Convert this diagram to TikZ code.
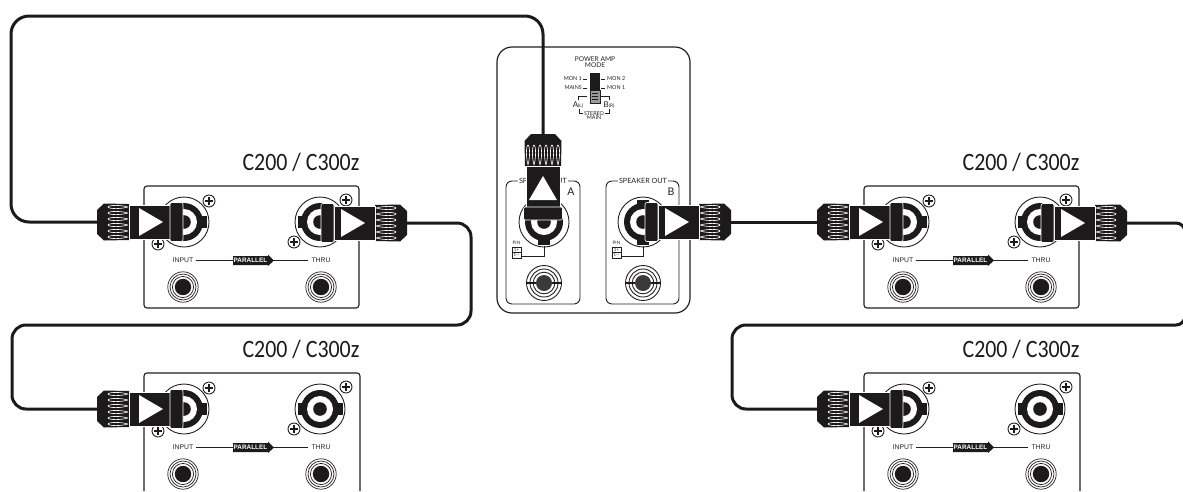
\documentclass[tikz,border=0pt]{standalone}
\usepackage{fontspec}
\setmainfont{Liberation Sans}
\newfontfamily\titlefont[FakeStretch=0.875]{Carlito}
\newfontfamily\ampfont{Lato}
\usepackage{tikz}
\usetikzlibrary{positioning, calc}
\usepackage{xcolor}
\definecolor{cabledark}{HTML}{1C1A1B}
\definecolor{panelline}{HTML}{231F20}
\definecolor{switchgrey}{HTML}{9A9A9A}
\definecolor{jackgrey}{HTML}{3A3A3A}
\newcommand{\fsize}[1]{\fontsize{#1}{#1}\selectfont}
\newcommand{\plugshell}{
  \coordinate (-end) at (0,0);
  \fill[cabledark] (0,-12) -- (7,-18.5) -- (32,-18) -- (32,18) -- (7,18.5) -- (0,12) -- cycle;
  \foreach \row in {-15,-9,-3,3,9,15}
    \draw[white, line width=0.6pt] (31,\row) .. controls (24,\row-2.1) and (12,\row-2.1) .. (11,\row)
      .. controls (12,\row+2.1) and (24,\row+2.1) .. (31,\row);
  \fill[cabledark, draw=white, line width=0.6pt] (32,-17) rectangle (73,17);
  \fill[cabledark, draw=white, line width=0.6pt, rounded corners=2pt] (73,-19.5) rectangle (86,19.5);
}
\tikzset{
  cable/.style={draw=cabledark, line width=3pt},
  boxline/.style={draw=panelline, line width=1.1pt, rounded corners=3pt},
  thinline/.style={draw=panelline, line width=0.7pt},
  unitlabel/.style={font=\titlefont\fsize{25}, text=cabledark, inner sep=0pt},
  paneltext/.style={font=\fsize{6.8}, text=panelline, inner sep=0pt},
  amptext/.style={font=\ampfont\fsize{5.4}, text=panelline, inner sep=0pt, align=center},
  speakertext/.style={font=\ampfont\fsize{7.2}, text=panelline, fill=white, inner sep=1.5pt},
  pics/plugin/.style={code={
    \plugshell
    \fill[white] (42,-14) -- (66,0) -- (42,14) -- cycle;
  }},
  pics/plugout/.style={code={
    \plugshell
    \fill[white] (66,-14) -- (42,0) -- (66,14) -- cycle;
  }},
  pics/speakon/.style={code={
    \draw[thinline, fill=white, line width=0.9pt] (0,0) circle [radius=25];
    \fill[cabledark] (-22.5,-6) rectangle (22.5,6);
    \fill[cabledark] (0,0) circle [radius=19];
    \fill[white] (0,0) circle [radius=13];
    \fill[cabledark] (0,0) circle [radius=6.8];
  }},
  pics/screw/.style={code={
    \draw[thinline, fill=white, line width=0.9pt] (0,0) circle [radius=6];
    \draw[cabledark, line width=1.7pt] (-3.8,0) -- (3.8,0) (0,-3.8) -- (0,3.8);
  }},
  pics/panjack/.style={code={
    \draw[thinline] (0,0) circle [radius=15.2];
    \draw[thinline] (0,0) circle [radius=13];
    \draw[thinline] (0,0) circle [radius=10.6];
    \fill[cabledark] (0,0) circle [radius=8.2];
  }},
  pics/ampjack/.style={code={
    \draw[thinline, line width=0.9pt] (0,0) circle [radius=17.5];
    \draw[thinline, line width=0.9pt] (0,0) circle [radius=14];
    \draw[thinline, line width=0.9pt] (0,0) circle [radius=10.8];
    \fill[jackgrey] (0,0) circle [radius=8];
    \draw[cabledark, line width=2pt] (-17.5,0) -- (-8,0) (8,0) -- (17.5,0);
  }},
  pics/loadpanel/.style={code={
    \node[unitlabel] (-title) at (301,162) {C200 / C300z};
    \pic at (184,222) {speakon};
    \pic at (320,222) {speakon};
    \pic at (209,201) {screw};
    \pic at (158,244) {screw};
    \pic at (346,200) {screw};
    \pic at (294,242) {screw};
    \node[paneltext] (-input) at (183,260) {INPUT};
    \node[paneltext] (-thru) at (321,260) {THRU};
    \draw[thinline, line width=0.9pt] (-input.east) ++(3,0) -- ($(-thru.west)+(-3,0)$);
    \fill[cabledark] (233,256) -- (268,256) -- (268,254.5) -- (274,260.5) -- (268,266) -- (268,265) -- (233,265) -- cycle;
    \node[paneltext, text=white, font=\bfseries\fsize{6.4}] (-parallel) at (250.5,260.5) {PARALLEL};
    \pic at (183,287) {panjack};
    \pic at (321,287) {panjack};
  }},
  pics/pinbox/.style={code={
    \node[amptext, font=\ampfont\fsize{4.6}] (-pin) at (4.5,-4.5) {PIN};
    \draw[thinline] (0,0) rectangle (9,11);
    \draw[thinline] (0,5.5) -- (9,5.5);
    \node[amptext, font=\ampfont\fsize{4.4}] (-plus) at (4.5,2.8) {1+};
    \node[amptext, font=\ampfont\fsize{4.4}] (-minus) at (4.5,8.3) {1--};
  }}
}
\begin{document}
\begin{tikzpicture}[x=1pt, y=-1pt]
  \useasboundingbox (0,0) rectangle (1183,491);
  \clip (0,0) rectangle (1183,491);

  \draw[boxline] (144,186) rectangle (359,308);
  \draw[boxline] (864,186) rectangle (1079,308);
  \draw[boxline] (144,491) -- (144,373) -- (360,373) -- (360,491);
  \draw[boxline] (864,491) -- (864,373) -- (1080,373) -- (1080,491);
  \pic (upl) at (0,0) {loadpanel};
  \pic (lol) at (0,187) {loadpanel};
  \pic (upr) at (720,0) {loadpanel};
  \pic (lor) at (720,187) {loadpanel};

  \draw[boxline, line width=1.2pt, rounded corners=15pt] (497,47) rectangle (690,313);
  \draw[boxline, line width=0.9pt, rounded corners=6pt] (506,181) rectangle (580,304);
  \draw[boxline, line width=0.9pt, rounded corners=6pt] (606,181) rectangle (679,304);
  \node[speakertext] (labela) at (543,181) {SPEAKER OUT};
  \node[speakertext] (labelb) at (643,181) {SPEAKER OUT};
  \node[amptext, font=\ampfont\fsize{10.5}] (leta) at (571,192) {A};
  \node[amptext, font=\ampfont\fsize{10.5}] (letb) at (671,192) {B};

  \node[amptext, font=\ampfont\fsize{6.6}] (mode) at (595,62.5) {POWER AMP\\[-0.4pt]MODE};
  \fill[cabledark] (590,73) rectangle (600,90);
  \fill[switchgrey] (590,90) rectangle (600,103);
  \draw[thinline] (590,90) rectangle (600,103);
  \foreach \bar in {93.5,96.5,99.5}
    \draw[cabledark, line width=0.8pt] (592,\bar) -- (598,\bar);
  \node[amptext, anchor=east] (monl) at (582,79) {MON 1};
  \node[amptext, anchor=east] (mains) at (582,88) {MAINS};
  \node[amptext, anchor=west] (monr) at (607,79) {MON 2};
  \node[amptext, anchor=west] (monm) at (607,88) {MON 1};
  \draw[thinline] (583,79) -- (587,79) (583,88) -- (587,88) (601,79) -- (605,79) (601,88) -- (605,88);
  \draw[thinline] (578,100) -- (578,96) -- (587,96) (600,96) -- (609,96) -- (609,100);
  \node[amptext] (amode) at (578,105) {\fsize{8}A\fsize{4.8}(L)};
  \node[amptext] (bmode) at (609,105) {\fsize{8}B\fsize{4.8}(R)};
  \node[amptext] (stereo) at (594,115.5) {STEREO\\[-0.6pt]MAIN};
  \draw[thinline] (579,109) -- (579,113) -- (583,113) (605,113) -- (609,113) -- (609,109);

  \pic[rotate=90] at (544,222) {speakon};
  \pic[rotate=90] at (643,222) {speakon};
  \draw[thinline] (544,246) -- (544,256) -- (521,256);
  \draw[thinline] (643,246) -- (643,256) -- (621,256);
  \pic (pina) at (512,247) {pinbox};
  \pic (pinb) at (612,247) {pinbox};
  \pic at (544,283) {ampjack};
  \pic at (643,283) {ampjack};

  \pic (inupl) at (97,222) {plugin};
  \pic[rotate=180] (thupl) at (407,223) {plugout};
  \pic (inlol) at (97,409) {plugin};
  \pic[rotate=-90] (outa) at (543,134) {plugout};
  \pic[rotate=180] (outb) at (731,222) {plugout};
  \pic (inupr) at (817,222) {plugin};
  \pic[rotate=180] (thupr) at (1127,223) {plugout};
  \pic (inlor) at (817,409) {plugin};

  \coordinate (topleft) at (11,16);
  \coordinate (midleft) at (12,325);
  \coordinate (midturn) at (471,325);
  \coordinate (edgeturn) at (1185,325);
  \coordinate (midright) at (732,325);

  \draw[cable, rounded corners=18pt] (outa-end) |- (topleft) |- (inupl-end);
  \draw[cable, rounded corners=14pt] (thupl-end) -| (midturn) -- (midleft) |- (inlol-end);
  \draw[cable] (outb-end) -- (inupr-end);
  \draw[cable, rounded corners=9pt] (thupr-end) -| (edgeturn) [rounded corners=14pt] -- (midright) |- (inlor-end);
\end{tikzpicture}
\end{document}
